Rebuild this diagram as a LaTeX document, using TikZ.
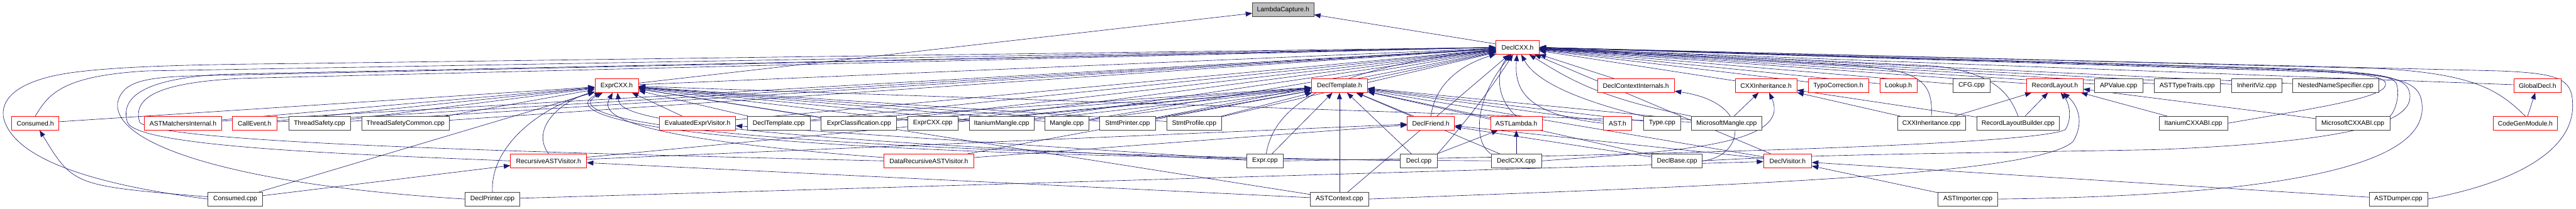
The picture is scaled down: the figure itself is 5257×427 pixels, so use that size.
\documentclass[tikz,border=0pt]{standalone}
\usepackage{fontspec}
\setmainfont{Liberation Sans}
\usetikzlibrary{arrows.meta, backgrounds}
\definecolor{edgeblue}{RGB}{25,25,112}
\definecolor{boxred}{RGB}{255,0,0}
\definecolor{boxgray}{RGB}{64,64,64}
\definecolor{rootfill}{RGB}{191,191,191}

\begin{document}
\begin{tikzpicture}[x=0.75pt, y=-0.75pt,
    file/.style={rectangle, draw, fill=white, line width=0.75pt, minimum height=21pt,
                 inner xsep=2pt, font=\fontsize{10}{12}\selectfont},
    hdr/.style={file, draw=boxred},
    src/.style={file, draw=boxgray},
    root/.style={file, draw=boxgray, fill=rootfill},
    wd/.style={minimum width=#1*0.75pt},
    inc/.style={-{Triangle[length=10pt, width=7.5pt]}, color=edgeblue, line width=0.6pt}
]
\useasboundingbox (0,0) rectangle (5257,427);

% rank 0 and 1
\node[root, wd=125] (LambdaCaptureh) at (2618.5,20) {LambdaCapture.h};
\node[hdr, wd=88] (DeclCXXh) at (3097,97) {DeclCXX.h};

% rank 2
\node[hdr, wd=89] (ExprCXXh) at (1258.5,175) {ExprCXX.h};
\node[hdr, wd=115] (DeclTemplateh) at (2733.5,175) {DeclTemplate.h};
\node[hdr, wd=157] (DeclContextInternalsh) at (3338.5,175) {DeclContextInternals.h};
\node[hdr, wd=126] (CXXInheritanceh) at (3604,175) {CXXInheritance.h};
\node[hdr, wd=123] (TypoCorrectionh) at (3751.5,175) {TypoCorrection.h};
\node[hdr, wd=75] (Lookuph) at (3874.5,175) {Lookup.h};
\node[src, wd=75] (CFGcpp) at (4023.5,175) {CFG.cpp};
\node[hdr, wd=115] (RecordLayouth) at (4193.5,175) {RecordLayout.h};
\node[src, wd=99] (APValuecpp) at (4323.5,175) {APValue.cpp};
\node[src, wd=135] (ASTTypeTraitscpp) at (4463.5,175) {ASTTypeTraits.cpp};
\node[src, wd=103] (InheritVizcpp) at (4605.5,175) {InheritViz.cpp};
\node[src, wd=175] (NestedNameSpecifiercpp) at (4766.5,175) {NestedNameSpecifier.cpp};
\node[hdr, wd=97] (GlobalDeclh) at (5178.5,175) {GlobalDecl.h};

% rank 3
\node[hdr, wd=96] (Consumedh) at (72,252) {Consumed.h};
\node[hdr, wd=157] (ASTMatchersInternalh) at (373.5,252) {ASTMatchersInternal.h};
\node[hdr, wd=91] (CallEventh) at (519.5,252) {CallEvent.h};
\node[src, wd=126] (ThreadSafetycpp) at (652,252) {ThreadSafety.cpp};
\node[src, wd=179] (ThreadSafetyCommoncpp) at (827.5,252) {ThreadSafetyCommon.cpp};
\node[hdr, wd=155] (EvaluatedExprVisitorh) at (1423.5,252) {EvaluatedExprVisitor.h};
\node[src, wd=128] (DeclTemplatecpp) at (1589,252) {DeclTemplate.cpp};
\node[src, wd=154] (ExprClassificationcpp) at (1753,252) {ExprClassification.cpp};
\node[src, wd=103] (ExprCXXcpp) at (1903.5,252) {ExprCXX.cpp};
\node[src, wd=132] (ItaniumManglecpp) at (2044,252) {ItaniumMangle.cpp};
\node[src, wd=90] (Manglecpp) at (2177,252) {Mangle.cpp};
\node[src, wd=114] (StmtPrintercpp) at (2301,252) {StmtPrinter.cpp};
\node[src, wd=112] (StmtProfilecpp) at (2437,252) {StmtProfile.cpp};
\node[hdr, wd=96] (DeclFriendh) at (2920,252) {DeclFriend.h};
\node[hdr, wd=105] (ASTLambdah) at (3094.5,252) {ASTLambda.h};
\node[hdr, wd=58] (ASTh) at (3301,252) {AST.h};
\node[src, wd=76] (Typecpp) at (3392,252) {Type.cpp};
\node[src, wd=143] (MicrosoftManglecpp) at (3523.5,252) {MicrosoftMangle.cpp};
\node[src, wd=139] (CXXInheritancecpp) at (3941.5,252) {CXXInheritance.cpp};
\node[src, wd=169] (RecordLayoutBuildercpp) at (4118.5,252) {RecordLayoutBuilder.cpp};
\node[src, wd=140] (ItaniumCXXABIcpp) at (4476,252) {ItaniumCXXABI.cpp};
\node[src, wd=151] (MicrosoftCXXABIcpp) at (4801.5,252) {MicrosoftCXXABI.cpp};
\node[hdr, wd=131] (CodeGenModuleh) at (5153.5,252) {CodeGenModule.h};

% rank 4
\node[hdr, wd=155] (RecursiveASTVisitorh) at (1119.5,329) {RecursiveASTVisitor.h};
\node[hdr, wd=183] (DataRecursiveASTVisitorh) at (1895.5,329) {DataRecursiveASTVisitor.h};
\node[src, wd=75] (Exprcpp) at (2581.5,329) {Expr.cpp};
\node[src, wd=75] (Declcpp) at (2895.5,329) {Decl.cpp};
\node[src, wd=103] (DeclCXXcpp) at (3094.5,329) {DeclCXX.cpp};
\node[src, wd=103] (DeclBasecpp) at (3422.5,329) {DeclBase.cpp};
\node[hdr, wd=98] (DeclVisitorh) at (3648,329) {DeclVisitor.h};

% rank 5
\node[src, wd=112] (Consumedcpp) at (480,407) {Consumed.cpp};
\node[src, wd=112] (DeclPrintercpp) at (1005,407) {DeclPrinter.cpp};
\node[src, wd=119] (ASTContextcpp) at (2733.5,407) {ASTContext.cpp};
\node[src, wd=122] (ASTImportercpp) at (4016,407) {ASTImporter.cpp};
\node[src, wd=119] (ASTDumpercpp) at (4894.5,407) {ASTDumper.cpp};

\begin{scope}[on background layer]
% LambdaCapture.h
\draw[inc] (DeclCXXh) -- (LambdaCaptureh);
\draw[inc] (ExprCXXh) -- (LambdaCaptureh);

% DeclCXX.h, from the left
\draw[inc] (ExprCXXh) -- (DeclCXXh);
\draw[inc] (DeclTemplateh) -- (DeclCXXh);
\draw[inc] (ASTMatchersInternalh) -- (DeclCXXh);
\draw[inc] (CallEventh) -- (DeclCXXh);
\draw[inc] (ThreadSafetycpp) -- (DeclCXXh);
\draw[inc] (ThreadSafetyCommoncpp) -- (DeclCXXh);
\draw[inc] (EvaluatedExprVisitorh) -- (DeclCXXh);
\draw[inc] (DeclTemplatecpp) -- (DeclCXXh);
\draw[inc] (ExprClassificationcpp) -- (DeclCXXh);
\draw[inc] (ExprCXXcpp) -- (DeclCXXh);
\draw[inc] (ItaniumManglecpp) -- (DeclCXXh);
\draw[inc] (Manglecpp) -- (DeclCXXh);
\draw[inc] (StmtPrintercpp) -- (DeclCXXh);
\draw[inc] (StmtProfilecpp) -- (DeclCXXh);
\draw[inc] (ASTContextcpp) -- (DeclCXXh);
\draw[inc] (Exprcpp) .. controls (2600,220) and (2700,140) .. (DeclCXXh);

% DeclCXX.h, round the left end
\draw[inc] (Consumedcpp.west) .. controls (250,385) and (30,340) .. (7,240)
    .. controls (0,190) and (60,160) .. (150,148) .. controls (250,135) and (400,132) .. (600,130) -- (DeclCXXh.west);
\draw[inc] (Consumedh.north) .. controls (100,190) and (130,155) .. (300,145) -- (DeclCXXh.west);
\draw[inc] (DeclPrintercpp.west) .. controls (500,380) and (230,300) .. (240,210)
    .. controls (250,168) and (290,158) .. (400,155) -- (DeclCXXh.west);
\draw[inc] (RecursiveASTVisitorh.west) .. controls (700,315) and (280,300) .. (260,250)
    .. controls (245,200) and (290,162) .. (450,152) -- (DeclCXXh.west);
\draw[inc] (DataRecursiveASTVisitorh.west) .. controls (1000,310) and (320,290) .. (285,250)
    .. controls (270,200) and (320,168) .. (500,160) -- (DeclCXXh.west);

% DeclCXX.h, from below
\draw[inc] (DeclFriendh.north) .. controls (2930,165) and (2990,130) .. (DeclCXXh);
\draw[inc] (ASTLambdah.north) .. controls (3050,200) and (3055,140) .. (DeclCXXh);
\draw[inc] (Declcpp.north east) .. controls (3000,240) and (3050,170) .. (DeclCXXh);
\draw[inc] (DeclCXXcpp.north west) .. controls (3005,290) and (3010,200) .. (DeclCXXh);
\draw[inc] (ASTh.west) .. controls (3110,235) and (3090,180) .. (DeclCXXh);
\draw[inc] (Typecpp.north west) .. controls (3200,200) and (3130,160) .. (DeclCXXh);
\draw[inc] (MicrosoftManglecpp.north west) .. controls (3260,200) and (3200,160) .. (DeclCXXh);
\draw[inc] (DeclContextInternalsh) -- (DeclCXXh);
\draw[inc] (DeclVisitorh) -- (DeclCXXh);

% DeclCXX.h, from the right
\draw[inc] (CXXInheritanceh) -- (DeclCXXh);
\draw[inc] (TypoCorrectionh) -- (DeclCXXh);
\draw[inc] (Lookuph) -- (DeclCXXh);
\draw[inc] (CFGcpp) -- (DeclCXXh);
\draw[inc] (RecordLayouth) -- (DeclCXXh);
\draw[inc] (APValuecpp) -- (DeclCXXh);
\draw[inc] (ASTTypeTraitscpp) -- (DeclCXXh);
\draw[inc] (InheritVizcpp) -- (DeclCXXh);
\draw[inc] (NestedNameSpecifiercpp) -- (DeclCXXh);
\draw[inc] (GlobalDeclh) -- (DeclCXXh);
\draw[inc] (CXXInheritancecpp.north) .. controls (3945,170) and (3920,145) .. (3800,135) -- (DeclCXXh.east);
\draw[inc] (RecordLayoutBuildercpp.north) .. controls (4100,190) and (4070,150) .. (3950,135) -- (DeclCXXh.east);
\draw[inc] (CodeGenModuleh.north) .. controls (5100,185) and (5050,150) .. (4850,140) -- (DeclCXXh.east);

% DeclCXX.h, round the right end
\draw[inc] (ItaniumCXXABIcpp.east) .. controls (4700,225) and (4840,205) .. (4865,180)
    .. controls (4880,160) and (4850,150) .. (4700,146) -- (DeclCXXh.east);
\draw[inc] (MicrosoftCXXABIcpp.north east) .. controls (4890,225) and (4898,190) .. (4890,170)
    .. controls (4880,155) and (4850,150) .. (4700,144) -- (DeclCXXh.east);
\draw[inc] (DeclBasecpp.east) .. controls (3700,315) and (4100,312) .. (4400,306)
    .. controls (4800,290) and (4915,250) .. (4918,200) .. controls (4920,160) and (4880,150) .. (4700,141) -- (DeclCXXh.east);
\draw[inc] (ASTImportercpp.east) .. controls (4700,400) and (4945,330) .. (4943,220)
    .. controls (4942,160) and (4900,150) .. (4600,139) -- (DeclCXXh.east);
\draw[inc] (ASTDumpercpp.east) .. controls (5150,370) and (5255,300) .. (5250,210)
    .. controls (5248,160) and (5220,150) .. (5100,145) -- (DeclCXXh.east);

% ExprCXX.h
\draw[inc] (Consumedh) -- (ExprCXXh);
\draw[inc] (ASTMatchersInternalh) -- (ExprCXXh);
\draw[inc] (CallEventh) -- (ExprCXXh);
\draw[inc] (ThreadSafetycpp) -- (ExprCXXh);
\draw[inc] (ThreadSafetyCommoncpp) -- (ExprCXXh);
\draw[inc] (Consumedcpp) -- (ExprCXXh);
\draw[inc] (RecursiveASTVisitorh.north) .. controls (1080,260) and (1150,205) .. (ExprCXXh);
\draw[inc] (DeclPrintercpp.north) .. controls (1000,300) and (1100,220) .. (ExprCXXh);
\draw[inc] (DataRecursiveASTVisitorh) .. controls (1240,280) and (1228,230) .. (ExprCXXh);
\draw[inc] (Exprcpp) .. controls (1290,275) and (1265,230) .. (ExprCXXh);
\draw[inc] (Declcpp) .. controls (1160,300) and (1170,220) .. (ExprCXXh);
\draw[inc] (DeclCXXcpp) .. controls (1150,320) and (1160,220) .. (ExprCXXh);
\draw[inc] (ASTContextcpp) -- (ExprCXXh);
\draw[inc] (EvaluatedExprVisitorh) -- (ExprCXXh);
\draw[inc] (DeclTemplatecpp) -- (ExprCXXh);
\draw[inc] (ExprClassificationcpp) -- (ExprCXXh);
\draw[inc] (ExprCXXcpp) -- (ExprCXXh);
\draw[inc] (ItaniumManglecpp) -- (ExprCXXh);
\draw[inc] (Manglecpp) -- (ExprCXXh);
\draw[inc] (StmtPrintercpp) -- (ExprCXXh);
\draw[inc] (StmtProfilecpp) -- (ExprCXXh);
\draw[inc] (MicrosoftManglecpp) -- (ExprCXXh);

% DeclTemplate.h
\draw[inc] (DeclTemplatecpp) -- (DeclTemplateh);
\draw[inc] (ExprClassificationcpp) -- (DeclTemplateh);
\draw[inc] (ExprCXXcpp) -- (DeclTemplateh);
\draw[inc] (ItaniumManglecpp) -- (DeclTemplateh);
\draw[inc] (Manglecpp) -- (DeclTemplateh);
\draw[inc] (StmtPrintercpp) -- (DeclTemplateh);
\draw[inc] (StmtProfilecpp) -- (DeclTemplateh);
\draw[inc] (RecursiveASTVisitorh) -- (DeclTemplateh);
\draw[inc] (DataRecursiveASTVisitorh) -- (DeclTemplateh);
\draw[inc] (Exprcpp) -- (DeclTemplateh);
\draw[inc] (ASTContextcpp) -- (DeclTemplateh);
\draw[inc] (Declcpp) -- (DeclTemplateh);
\draw[inc] (DeclCXXcpp) -- (DeclTemplateh);
\draw[inc] (DeclFriendh) -- (DeclTemplateh);
\draw[inc] (ASTLambdah) -- (DeclTemplateh);
\draw[inc] (ASTh) -- (DeclTemplateh);
\draw[inc] (Typecpp) -- (DeclTemplateh);
\draw[inc] (MicrosoftManglecpp) -- (DeclTemplateh);
\draw[inc] (DeclBasecpp) -- (DeclTemplateh);
\draw[inc] (DeclVisitorh) -- (DeclTemplateh);

% DeclFriend.h and ASTLambda.h
\draw[inc] (RecursiveASTVisitorh) -- (DeclFriendh);
\draw[inc] (DataRecursiveASTVisitorh) -- (DeclFriendh);
\draw[inc] (DeclBasecpp) -- (DeclFriendh);
\draw[inc] (DeclVisitorh) -- (DeclFriendh);
\draw[inc] (DeclCXXcpp) -- (ASTLambdah);
\draw[inc] (Declcpp) -- (ASTLambdah);

% DeclContextInternals.h, CXXInheritance.h, RecordLayout.h, GlobalDecl.h
\draw[inc] (DeclBasecpp.east) .. controls (3560,320) and (3580,210) .. (DeclContextInternalsh);
\draw[inc] (MicrosoftManglecpp) -- (CXXInheritanceh);
\draw[inc] (CXXInheritancecpp) -- (CXXInheritanceh);
\draw[inc] (RecordLayoutBuildercpp) -- (CXXInheritanceh);
\draw[inc] (DeclCXXcpp.east) .. controls (3400,310) and (3660,300) .. (CXXInheritanceh);
\draw[inc] (CXXInheritancecpp) -- (RecordLayouth);
\draw[inc] (RecordLayoutBuildercpp) -- (RecordLayouth);
\draw[inc] (ItaniumCXXABIcpp) -- (RecordLayouth);
\draw[inc] (MicrosoftCXXABIcpp) -- (RecordLayouth);
\draw[inc] (Exprcpp.east) .. controls (3200,320) and (4150,300) .. (4215,265)
    .. controls (4230,240) and (4222,210) .. (RecordLayouth);
\draw[inc] (ASTContextcpp.east) .. controls (3500,380) and (4150,360) .. (4230,290)
    .. controls (4255,250) and (4240,215) .. (RecordLayouth);
\draw[inc] (CodeGenModuleh) -- (GlobalDeclh);

% remaining headers
\draw[inc] (Consumedcpp) .. controls (150,380) .. (Consumedh);
\draw[inc] (Exprcpp) -- (EvaluatedExprVisitorh);
\draw[inc] (Consumedcpp) -- (RecursiveASTVisitorh);
\draw[inc] (ASTContextcpp) -- (RecursiveASTVisitorh);
\draw[inc] (DeclPrintercpp) -- (DeclVisitorh);
\draw[inc] (ASTImportercpp) -- (DeclVisitorh);
\draw[inc] (ASTDumpercpp) -- (DeclVisitorh);
\end{scope}
\end{tikzpicture}
\end{document}
